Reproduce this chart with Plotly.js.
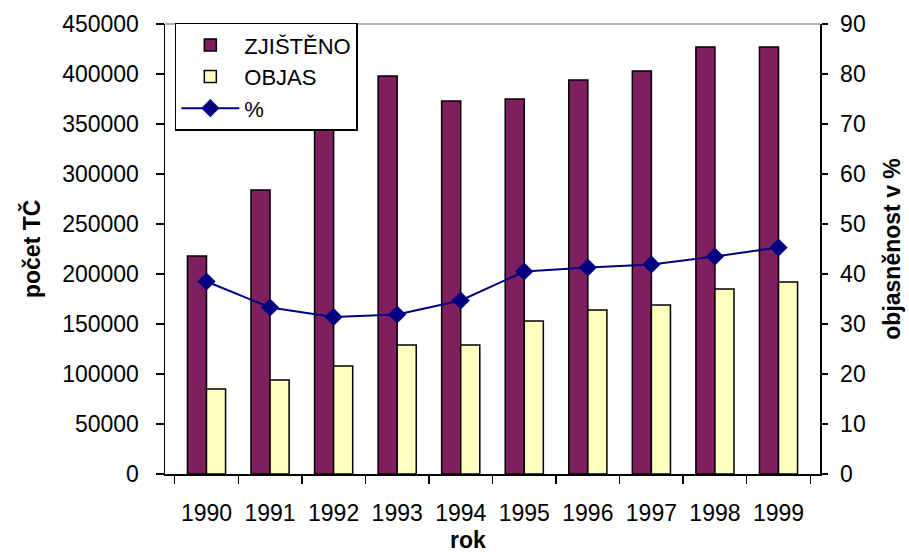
<!DOCTYPE html>
<html>
<head>
<meta charset="utf-8">
<script src="https://cdn.plot.ly/plotly-3.0.1.min.js"></script>
<style>html,body{margin:0;padding:0;background:#fff;}#chart{width:909px;height:555px;}</style>
</head>
<body>
<div id="chart"></div>
<script>
const years = ['1990','1991','1992','1993','1994','1995','1996','1997','1998','1999'];
const zjisteno = [218000, 284000, 345000, 398000, 373000, 375000, 394000, 403000, 427000, 427000];
const objas = [85000, 94000, 108000, 129000, 129000, 153000, 164000, 169000, 185000, 192000];
const procento = [38.5, 33.3, 31.4, 31.9, 34.7, 40.5, 41.3, 41.9, 43.5, 45.3];
const leftTicks = [0, 50000, 100000, 150000, 200000, 250000, 300000, 350000, 400000, 450000];
const rightTicks = [0, 10, 20, 30, 40, 50, 60, 70, 80, 90];

const FONT = 'Liberation Sans, Arial, sans-serif';

const traces = [
  {type: 'bar', name: 'ZJIŠTĚNO', x: years, y: zjisteno,
   marker: {color: '#7f1f5f', line: {color: '#000', width: 1.5}}},
  {type: 'bar', name: 'OBJAS', x: years, y: objas,
   marker: {color: '#ffffc0', line: {color: '#000', width: 1.5}}},
  {type: 'scatter', mode: 'lines+markers', name: '%', x: years, y: procento, yaxis: 'y2',
   line: {color: '#000080', width: 2},
   marker: {symbol: 'diamond', size: 14, color: '#000080'}}
];

const layout = {
  width: 909, height: 555,
  margin: {l: 165, r: 89, t: 24, b: 81},
  paper_bgcolor: '#fff', plot_bgcolor: '#fff',
  font: {family: FONT, color: '#000', size: 23},
  showlegend: true,
  barmode: 'group', bargap: 0.4, bargroupgap: 0,
  legend: {x: 0.015, y: 1.003, xanchor: 'left', yanchor: 'top',
           bgcolor: '#fff', bordercolor: '#000', borderwidth: 1.5,
           itemwidth: 58,
           font: {family: FONT, size: 22, color: '#000'}, tracegroupgap: 0},
  xaxis: {type: 'category', showline: true, linecolor: '#000', linewidth: 1.5,
          ticks: 'outside', ticklen: 8, tickcolor: '#000', tickwidth: 1.5,
          tickson: 'boundaries', ticklabelstandoff: 18,
          showgrid: false, zeroline: false,
          tickfont: {family: FONT, size: 23, color: '#000'}},
  yaxis: {range: [0, 450000], tickvals: leftTicks, tickformat: 'd',
          showline: true, linecolor: '#000', linewidth: 1.5,
          ticks: 'outside', ticklen: 8, tickcolor: '#000', tickwidth: 1.5,
          ticklabelstandoff: 12,
          showgrid: false, zeroline: false,
          tickfont: {family: FONT, size: 23, color: '#000'}},
  yaxis2: {range: [0, 90], tickvals: rightTicks, overlaying: 'y', side: 'right',
           showline: true, linecolor: '#000', linewidth: 1.5,
           ticks: 'outside', ticklen: 6, tickcolor: '#000', tickwidth: 1.5,
           ticklabelstandoff: 8,
           showgrid: false, zeroline: false,
           tickfont: {family: FONT, size: 23, color: '#000'}},
  shapes: [
    {type: 'line', xref: 'paper', yref: 'paper', x0: 0, x1: 1, y0: 1, y1: 1,
     line: {color: '#999', width: 1.5}}
  ],
  annotations: [
    {text: '<b>počet TČ</b>', xref: 'paper', yref: 'paper', x: -0.2045, y: 0.5,
     xanchor: 'center', yanchor: 'middle', textangle: -90, showarrow: false,
     font: {family: FONT, size: 23, color: '#000'}},
    {text: '<b>objasněnost v %</b>', xref: 'paper', yref: 'paper', x: 1.1095, y: 0.5,
     xanchor: 'center', yanchor: 'middle', textangle: -90, showarrow: false,
     font: {family: FONT, size: 23, color: '#000'}},
    {text: '<b>rok</b>', xref: 'paper', yref: 'paper', x: 0.4626, y: -0.147,
     xanchor: 'center', yanchor: 'middle', showarrow: false,
     font: {family: FONT, size: 23, color: '#000'}}
  ]
};

Plotly.newPlot('chart', traces, layout, {displayModeBar: false, staticPlot: true});
</script>
</body>
</html>
